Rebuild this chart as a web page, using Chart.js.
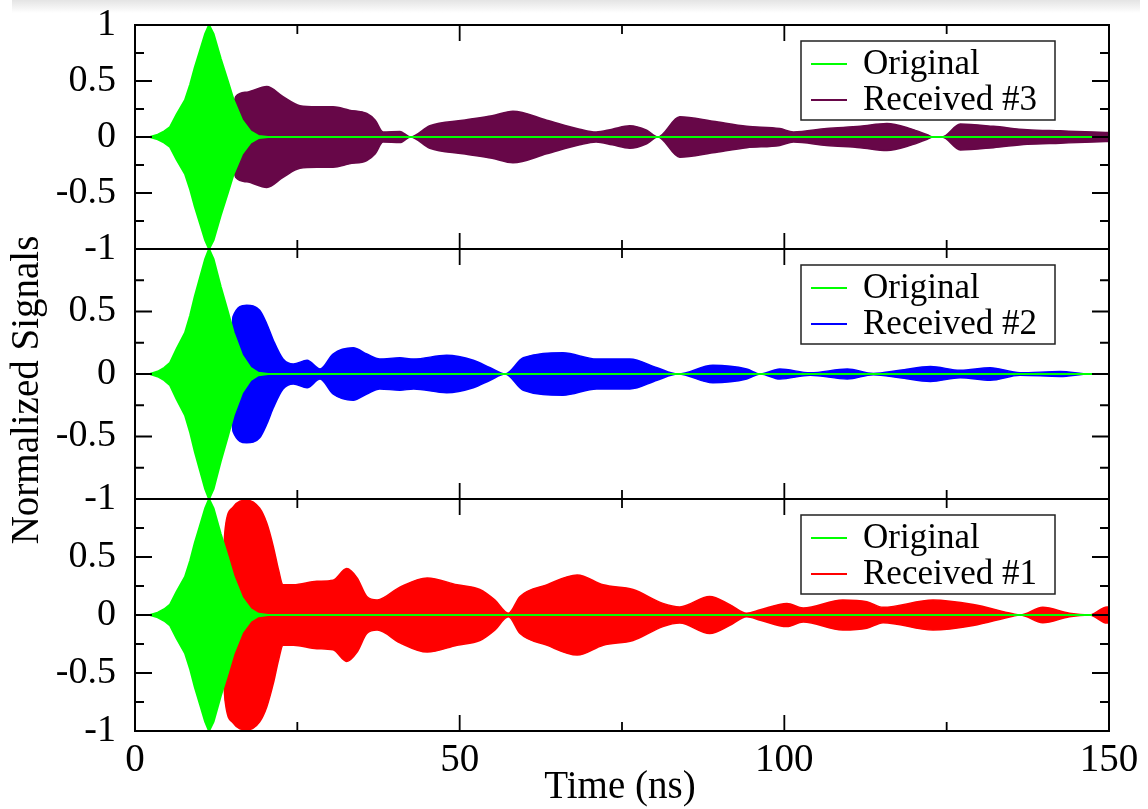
<!DOCTYPE html>
<html>
<head>
<meta charset="utf-8">
<title>Normalized Signals</title>
<script src="https://cdn.jsdelivr.net/npm/chart.js@4.4.1/dist/chart.umd.min.js"></script>
<style>
  html, body { margin: 0; padding: 0; background: #fff; }
  #wrap { position: relative; width: 1148px; height: 809px; }
  #shade { position: absolute; left: 12px; top: 0; width: 1128px; height: 13px; background: linear-gradient(#e4e4e4, #fff); }
  #signals { position: absolute; left: 0; top: 0; }
</style>
</head>
<body>
<div id="wrap">
  <div id="shade"></div>
  <canvas id="signals" width="1148" height="809"></canvas>
</div>
<script>
const FONT = '"Liberation Serif", "Times New Roman", serif';

// envelope of the original pulse (same in every panel)
const timeOriginal = [0, 2.3, 3.5, 4.5, 5.4, 6.4, 7.7, 8.5, 9.2, 10.0, 10.8, 11.4, 12.1, 13.2, 14.3, 15.2, 16.5, 17.8, 19.0, 20.5, 148];
const ampOriginal  = [0, 0, 0.02, 0.05, 0.09, 0.2, 0.33, 0.47, 0.62, 0.77, 0.92, 1.0, 0.92, 0.7, 0.5, 0.33, 0.15, 0.05, 0.01, 0, 0];

// received #3 (top panel) envelope
const time3 = [0, 14.5, 15.5, 17.2, 20.3, 22.8, 25.4, 28, 30.5, 33, 35.7, 37.0, 38.2, 40.8, 42.4, 45.4, 50.5, 55, 58.2, 63.4, 68.5, 71.0, 73.5, 76.2, 78.8, 80.5, 83.9, 89, 94.2, 99.3, 101.4, 106.5, 111.7, 115.8, 119.4, 122.0, 122.9, 124.3, 127.1, 132.2, 137.4, 142.5, 147.6, 150];
const amp3  = [0, 0, 0.36, 0.40, 0.45, 0.36, 0.28, 0.27, 0.27, 0.24, 0.21, 0.15, 0.045, 0.05, 0, 0.10, 0.15, 0.19, 0.23, 0.15, 0.07, 0.045, 0.07, 0.10, 0.06, 0, 0.18, 0.14, 0.095, 0.075, 0.045, 0.075, 0.095, 0.12, 0.075, 0.02, 0, 0, 0.115, 0.095, 0.065, 0.055, 0.045, 0.04];

// received #2 (middle panel) envelope
const time2 = [0, 14.5, 15.1, 17.2, 19.2, 20.3, 21.3, 22.8, 24.4, 26.5, 28.5, 30.5, 33.6, 35.7, 37.7, 40.8, 42.9, 48, 52.1, 54.7, 57, 59.8, 65.9, 71.1, 76.2, 80.4, 83.6, 89, 94.2, 96.3, 99.3, 104, 109.7, 113.7, 117.8, 122.5, 127.1, 131.7, 136.3, 142.5, 147, 150];
const amp2  = [0, 0, 0.46, 0.55, 0.51, 0.40, 0.27, 0.12, 0.08, 0.11, 0.04, 0.16, 0.21, 0.16, 0.12, 0.13, 0.12, 0.15, 0.11, 0.05, 0, 0.13, 0.17, 0.12, 0.12, 0.05, 0, 0.07, 0.04, 0, 0.04, 0.01, 0.04, 0.005, 0.03, 0.06, 0.03, 0.05, 0.01, 0.02, 0, 0];

// received #1 (bottom panel) envelope
const time1 = [0, 13.0, 13.9, 15.1, 17.2, 19.2, 20.3, 21.3, 22.1, 22.8, 24.4, 28, 30.5, 32.6, 34.2, 35.7, 37.3, 40.8, 45, 49.6, 53.1, 55.4, 57.5, 59.3, 63.4, 68.1, 72.1, 76.7, 81.3, 83.9, 88.5, 91.6, 94.2, 96.3, 100.4, 102.9, 109, 112.7, 115.2, 122.9, 129.1, 135.2, 136.3, 139.8, 143.9, 147, 149.7, 150];
const amp1  = [0, 0, 0.75, 0.93, 0.99, 0.92, 0.79, 0.59, 0.39, 0.26, 0.26, 0.29, 0.30, 0.40, 0.32, 0.16, 0.13, 0.24, 0.32, 0.26, 0.22, 0.13, 0.015, 0.16, 0.26, 0.345, 0.26, 0.22, 0.10, 0.07, 0.16, 0.09, 0.015, 0.045, 0.10, 0.06, 0.13, 0.115, 0.066, 0.13, 0.09, 0.01, 0, 0.066, 0.015, 0, 0.07, 0.07];

const xTickValues = [0, 50, 100, 150];
const xMinorTicks = [25, 75, 125];
const yTickValues = [-1, -0.5, 0, 0.5, 1];
const yMinorTicks = [-0.75, -0.25, 0.25, 0.75];

const GREEN = 'rgb(0, 255, 0)';

// top to bottom
const panels = [
  { id: 'y3', label: 'Received #3', color: 'rgb(103, 7, 72)', time: time3, amp: amp3, weight: 224 },
  { id: 'y2', label: 'Received #2', color: 'rgb(0, 0, 255)', time: time2, amp: amp2, weight: 250 },
  { id: 'y1', label: 'Received #1', color: 'rgb(255, 0, 0)', time: time1, amp: amp1, weight: 232 }
];

function envelope(time, amp, sign) {
  return time.map((t, i) => ({ x: t, y: sign * amp[i] }));
}

const datasets = [];
panels.forEach(p => {
  [1, -1].forEach(sign => {
    datasets.push({
      label: 'Original',
      data: envelope(timeOriginal, ampOriginal, sign),
      yAxisID: p.id,
      borderColor: GREEN,
      backgroundColor: GREEN,
      borderWidth: 2,
      fill: 'origin',
      order: 0
    });
    datasets.push({
      label: p.label,
      data: envelope(p.time, p.amp, sign),
      yAxisID: p.id,
      borderColor: p.color,
      backgroundColor: p.color,
      borderWidth: 1.5,
      cubicInterpolationMode: 'monotone',
      fill: 'origin',
      order: 1
    });
  });
});

const scales = {
  x: {
    type: 'linear',
    position: 'bottom',
    min: 0,
    max: 150,
    grid: { display: false },
    border: { display: false },
    afterBuildTicks: axis => { axis.ticks = xTickValues.map(v => ({ value: v })); },
    afterFit: axis => { axis.height = 78; axis.paddingLeft = 0; axis.paddingRight = 0; },
    ticks: {
      color: '#000',
      font: { family: FONT, size: 39 },
      padding: -2,
      autoSkip: false,
      maxRotation: 0,
      callback: v => String(v)
    }
  }
};

panels.forEach((p, i) => {
  scales[p.id] = {
    type: 'linear',
    position: 'left',
    stack: 'signals',
    stackWeight: p.weight,
    weight: panels.length - i,
    min: -1,
    max: 1,
    grid: { display: false },
    border: { display: false },
    afterBuildTicks: axis => { axis.ticks = yTickValues.map(v => ({ value: v })); },
    afterFit: axis => { axis.width = 135; axis.paddingTop = 0; axis.paddingBottom = 0; },
    ticks: {
      color: '#000',
      font: { family: FONT, size: 38 },
      padding: 11,
      autoSkip: false,
      // the "1" of the lower panels sits under the "-1" of the panel above
      callback: v => (i > 0 && v === 1) ? '' : String(v)
    }
  };
});

// frames, inward ticks, per-panel legends and axis titles
const panelFrames = {
  id: 'panelFrames',
  afterDatasetsDraw(chart) {
    const ctx = chart.ctx;
    const area = chart.chartArea;
    const xs = chart.scales.x;

    panels.forEach(p => {
      const ys = chart.scales[p.id];
      ctx.save();
      ctx.strokeStyle = '#000';
      ctx.lineWidth = 2;
      ctx.strokeRect(area.left, ys.top, area.right - area.left, ys.bottom - ys.top);

      ctx.lineWidth = 1.8;
      ctx.beginPath();
      xTickValues.concat(xMinorTicks).forEach(v => {
        const px = xs.getPixelForValue(v);
        const len = xTickValues.includes(v) ? 16 : 9;
        ctx.moveTo(px, ys.top); ctx.lineTo(px, ys.top + len);
        ctx.moveTo(px, ys.bottom); ctx.lineTo(px, ys.bottom - len);
      });
      yTickValues.concat(yMinorTicks).forEach(v => {
        const py = ys.getPixelForValue(v);
        const len = yTickValues.includes(v) ? 17 : 9;
        ctx.moveTo(area.left, py); ctx.lineTo(area.left + len, py);
        ctx.moveTo(area.right, py); ctx.lineTo(area.right - len, py);
      });
      ctx.stroke();

      // legend box
      const bx = area.right - 308;
      const by = ys.top + 16;
      ctx.fillStyle = '#fff';
      ctx.fillRect(bx, by, 254, 79);
      ctx.strokeStyle = '#222';
      ctx.lineWidth = 1.5;
      ctx.strokeRect(bx, by, 254, 79);

      const rows = [[GREEN, 'Original', by + 23], [p.color, p.label, by + 59]];
      ctx.font = '35px ' + FONT;
      ctx.textAlign = 'left';
      ctx.textBaseline = 'middle';
      rows.forEach(([color, text, ry]) => {
        ctx.strokeStyle = color;
        ctx.lineWidth = 2;
        ctx.beginPath();
        ctx.moveTo(bx + 10, ry);
        ctx.lineTo(bx + 46, ry);
        ctx.stroke();
        ctx.fillStyle = '#000';
        ctx.fillText(text, bx + 62, ry + 1);
      });
      ctx.restore();
    });

    // axis titles
    ctx.save();
    ctx.fillStyle = '#000';
    ctx.font = '39px ' + FONT;
    ctx.textAlign = 'center';
    ctx.textBaseline = 'middle';
    ctx.fillText('Time (ns)', (area.left + area.right) / 2 - 2, 788);
    ctx.translate(28, 390);
    ctx.rotate(-Math.PI / 2);
    ctx.fillText('Normalized Signals', 0, 0);
    ctx.restore();
  }
};

new Chart(document.getElementById('signals').getContext('2d'), {
  type: 'line',
  data: { datasets: datasets },
  options: {
    responsive: false,
    animation: false,
    devicePixelRatio: 1,
    layout: { padding: { top: 25, right: 39, bottom: 0, left: 0 } },
    elements: {
      point: { radius: 0 },
      line: { tension: 0 }
    },
    plugins: {
      legend: { display: false },
      tooltip: { enabled: false }
    },
    scales: scales
  },
  plugins: [panelFrames]
});
</script>
</body>
</html>
